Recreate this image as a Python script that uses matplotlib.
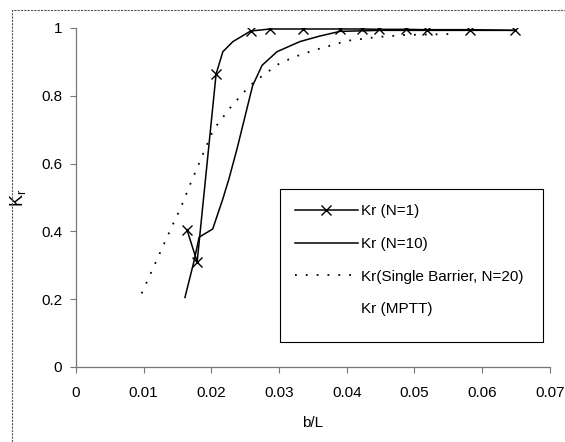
import numpy as np
import matplotlib.pyplot as plt
from matplotlib.patches import Rectangle

plt.rcParams['font.family'] = ['Liberation Sans', 'DejaVu Sans']

# Kr (N=1) - line with x markers
x_n1 = [0.0164, 0.0179, 0.0207, 0.0217, 0.0232, 0.0258, 0.0287, 0.0336, 0.0390,
        0.0422, 0.0448, 0.0487, 0.0518, 0.0582, 0.0648]
y_n1 = [0.405, 0.310, 0.864, 0.930, 0.960, 0.991, 0.997, 0.997, 0.997,
        0.997, 0.996, 0.996, 0.995, 0.995, 0.993]
n1_marks = [0, 1, 2, 5, 6, 7, 8, 9, 10, 11, 12, 13, 14]

# Kr (N=10)
x_n10 = [0.0161, 0.0174, 0.0182, 0.0192, 0.0202, 0.0217, 0.0226, 0.0238, 0.0261,
         0.0275, 0.0297, 0.0331, 0.0360, 0.0390, 0.0450, 0.0550, 0.0648]
y_n10 = [0.205, 0.309, 0.383, 0.395, 0.407, 0.496, 0.555, 0.644, 0.830,
         0.890, 0.930, 0.960, 0.976, 0.990, 0.993, 0.993, 0.993]

# Kr (Single Barrier, N=20)
x_sb = [0.0097, 0.0143, 0.0154, 0.0171, 0.0203, 0.0230, 0.0257, 0.0276, 0.0301,
        0.0326, 0.0353, 0.0400, 0.0444, 0.0483, 0.0503, 0.0550]
y_sb = [0.217, 0.420, 0.466, 0.550, 0.700, 0.770, 0.830, 0.860, 0.896,
        0.917, 0.935, 0.962, 0.973, 0.979, 0.980, 0.982]

xticks = [0, 0.01, 0.02, 0.03, 0.04, 0.05, 0.06, 0.07]
xtick_labels = ['0', '0.01', '0.02', '0.03', '0.04', '0.05', '0.06', '0.07']
yticks = [0, 0.2, 0.4, 0.6, 0.8, 1]
ytick_labels = ['0', '0.2', '0.4', '0.6', '0.8', '1']

fig = plt.figure(figsize=(5.65, 4.42), dpi=100)
ax = fig.add_axes([0.1345, 0.1697, 0.8385, 0.767])

ax.plot(x_n1, y_n1, color='black', lw=1.1, marker='x', markersize=7,
        markeredgewidth=1.0, markevery=n1_marks, label='Kr (N=1)')
ax.plot(x_n10, y_n10, color='black', lw=1.1, label='Kr (N=10)')
ax.plot(x_sb, y_sb, color='black', lw=1.3, linestyle=(0, (1, 5)),
        label='Kr(Single Barrier, N=20)')
ax.plot([], [], color='none', label='Kr (MPTT)')

ax.set_xlim(0, 0.07)
ax.set_ylim(0, 1)
ax.set_xticks(xticks)
ax.set_xticklabels(xtick_labels)
ax.set_yticks(yticks)
ax.set_yticklabels(ytick_labels)
ax.tick_params(labelsize=11, length=4, width=0.8, color='#777777', pad=6)
ax.tick_params(axis='x', pad=10)

for side in ['top', 'right']:
    ax.spines[side].set_visible(False)
for side in ['left', 'bottom']:
    ax.spines[side].set_color('#777777')
    ax.spines[side].set_linewidth(0.9)

ax.set_xlabel('b/L', fontsize=11, labelpad=11)
ax.set_ylabel('K$_\\mathregular{r}$', fontsize=13)
ax.yaxis.set_label_coords(-0.101, 0.50)

# legend box drawn separately so its padding matches the original
ax.add_patch(Rectangle((0.43, 0.074), 0.555, 0.451, transform=ax.transAxes,
                       fill=False, edgecolor='black', lw=0.8, zorder=5))
leg = ax.legend(loc='upper left', bbox_to_anchor=(0.430, 0.525), fontsize=11,
                frameon=False, handlelength=4.1, labelspacing=1.22,
                borderaxespad=0, handletextpad=0.2, borderpad=1.0)

# outer chart border
fig.patches.append(Rectangle((12 / 565, -0.1), 1.1, 1.1 - 10 / 442,
                             transform=fig.transFigure, fill=False,
                             edgecolor='#555555', lw=0.8, linestyle=(0, (2, 1))))

fig.savefig('out.png', dpi=100)
